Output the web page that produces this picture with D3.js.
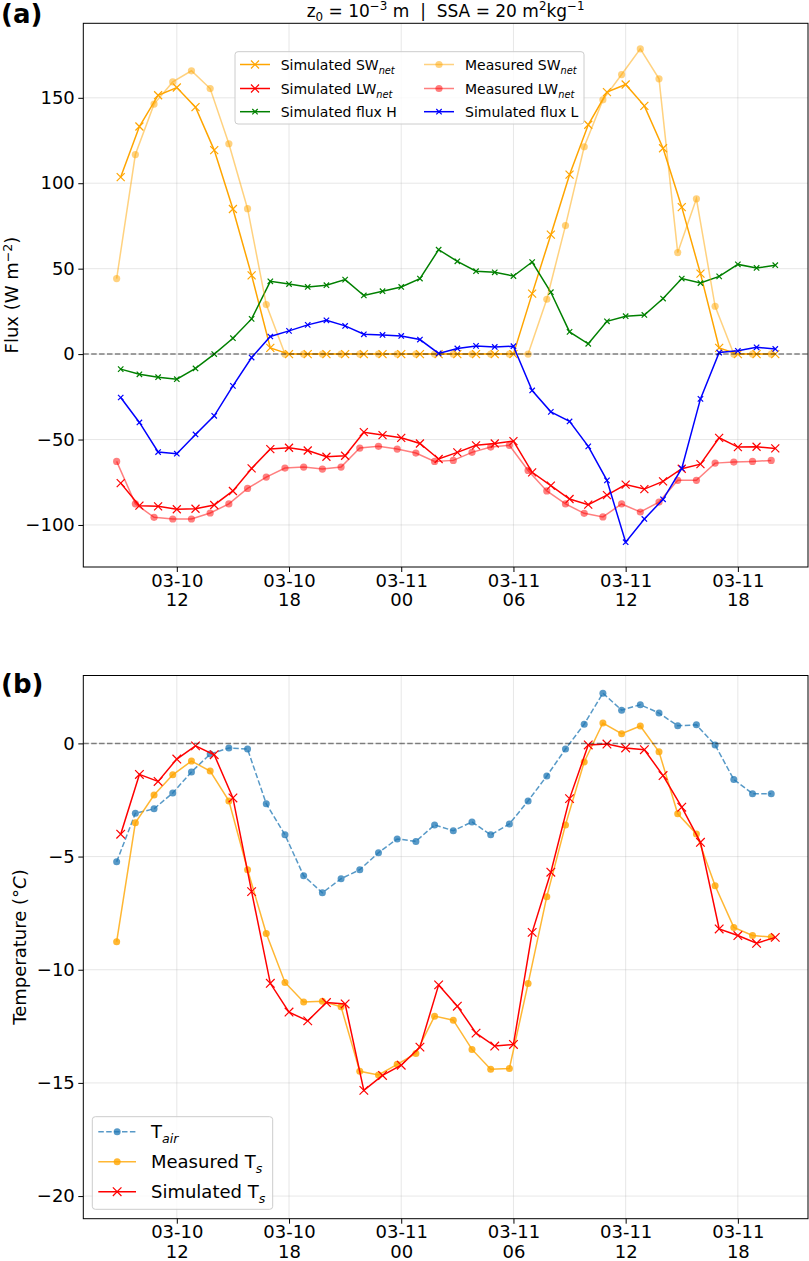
<!DOCTYPE html>
<html>
<head>
<meta charset="utf-8">
<script src="https://cdn.jsdelivr.net/npm/d3@7"></script>
<style>
body { margin: 0; background: #fff; }
svg text { font-family: "DejaVu Sans", sans-serif; fill: #000; }
</style>
</head>
<body>
<script>
// model output is hourly, 03-10 09:00 -> 03-11 20:00
const simTimes = d3.utcHour.range(new Date(Date.UTC(2021, 2, 10, 9)), new Date(Date.UTC(2021, 2, 11, 21)));
// station records are stamped a few minutes before the hour
const measTimes = simTimes.map(t => d3.utcMinute.offset(t, -13));
const tickTimes = ["2021-03-10T12:00Z", "2021-03-10T18:00Z", "2021-03-11T00:00Z",
                   "2021-03-11T06:00Z", "2021-03-11T12:00Z", "2021-03-11T18:00Z"].map(s => new Date(s));

// (a) fluxes, W m-2
const simSW = [103.6, 133.2, 151.5, 156, 144.5, 119.4, 84.9, 46.1, 3.6, 0, 0, 0, 0, 0, 0,
               0, 0, 0, 0, 0, 0, 0, 35.4, 69.9, 105, 134.2, 153.3, 157.8, 145.3, 120.5, 86, 47.1, 3.6, 0, 0, 0];
const measSW = [44.2, 116.8, 146.3, 159.3, 165.8, 155.4, 123.1, 85.1, 29, 0, 0, 0, 0, 0, 0, 0,
                0, 0, 0, 0, 0, 0, 0, 32.1, 75.2, 121.3, 148.8, 163.6, 178.6, 161.1, 59.4, 90.9, 28, 0, 0, 0];
const simLW = [-75.5, -88.7, -89.1, -90.8, -90.5, -88.3, -80.1, -66.9, -55.6, -54.8, -56.4, -60.1, -59.5, -45.7, -47.4,
               -49, -52.3, -61.4, -57.5, -53.4, -52.3, -50.9, -69.2, -77, -84.8, -88.1, -82.5, -76.4, -79, -74.5, -67.1, -64.4, -49, -54.4, -54.2, -55.2];
const measLW = [-62.8, -87.6, -95.5, -96.5, -96.5, -93, -87.7, -78.6, -72, -66.7, -66.1, -67.3, -66.1, -55, -54, -55.6,
                -57.9, -62.8, -62.2, -57.5, -54.4, -53.4, -68.1, -80.1, -87.7, -93.2, -95.3, -87.7, -92.4, -86.6, -73.9, -73.9, -63.8, -63.2, -62.8, -62.2];
const simH = [-8.8, -11.8, -13.5, -14.7, -8.4, 0, 9.3, 20.6, 42.6, 41.0, 39.3, 40.3, 43.6, 34.3, 36.8,
              39.3, 44.2, 61.1, 54.3, 48.5, 47.9, 45.7, 53.9, 36.2, 13.0, 6.0, 19.2, 22.2, 22.9, 32.5, 44.2, 41.6, 45.5, 52.5, 50.4, 52.0];
const simL = [-25.4, -40, -57.3, -58.3, -47, -36.1, -18.6, -2.0, 10.3, 13.6, 17.1, 19.8, 16.5, 11.6, 11.2,
              10.6, 8.5, 0.4, 3.3, 4.8, 4.2, 4.6, -21.3, -33.8, -39.4, -54, -73.9, -110.1, -96.5, -85, -66.9, -26.2, 0.9, 1.9, 4.0, 3.0];

// (b) temperatures, degC
const tAir = [-5.23, -3.09, -2.89, -2.19, -1.26, -0.47, -0.20, -0.25, -2.67, -4.04, -5.85, -6.60, -5.98, -5.58, -4.83, -4.22,
              -4.33, -3.60, -3.86, -3.47, -4.04, -3.56, -2.54, -1.44, -0.25, 0.85, 2.22, 1.47, 1.71, 1.34, 0.78, 0.82, -0.07, -1.60, -2.22, -2.22];
const measTs = [-8.76, -3.51, -2.28, -1.39, -0.78, -1.22, -2.54, -5.58, -8.40, -10.56, -11.43, -11.39, -11.64, -14.49, -14.65, -14.18,
                -13.70, -12.05, -12.23, -13.52, -14.40, -14.36, -10.61, -6.77, -3.60, -0.82, 0.90, 0.43, 0.77, -0.37, -3.11, -4.00, -6.29, -8.13, -8.49, -8.55];
const simTs = [-4.01, -1.37, -1.68, -0.69, -0.11, -0.50, -2.41, -6.55, -10.6, -11.87, -12.26, -11.45, -11.51, -15.33, -14.67,
               -14.22, -13.42, -10.67, -11.61, -12.80, -13.37, -13.30, -8.35, -5.69, -2.44, -0.07, -0.03, -0.20, -0.28, -1.42, -2.82, -4.37, -8.20, -8.49, -8.83, -8.57];

const fluxTicks = [-100, -50, 0, 50, 100, 150];
const tempTicks = [-20, -15, -10, -5, 0];

const W = 809, H = 1261;
const left = 83.3, right = 808;

const svg = d3.select("body").append("svg")
    .attr("width", W)
    .attr("height", H);

const x = d3.scaleUtc()
    .domain([new Date(Date.UTC(2021, 2, 10, 7)), new Date(Date.UTC(2021, 2, 11, 21, 45))])
    .range([left, right]);

const fmtDay = d3.utcFormat("%m-%d"), fmtHour = d3.utcFormat("%H");

// text with sub/superscripts: parts = [[text, "sub"|"sup"|null, italic]]
function rich(sel, parts, size, supShift = 0.4) {
    let shift = 0;
    parts.forEach(([t, kind, it]) => {
        const target = kind === "sub" ? size * 0.25 : kind === "sup" ? -size * supShift : 0;
        const ts = sel.append("tspan").attr("dy", target - shift).text(t);
        shift = target;
        if (kind) ts.attr("font-size", size * 0.7);
        if (it) ts.attr("font-style", "italic");
    });
    return sel;
}

function xMark(sel, s) {
    return sel.attr("d", `M${-s},${-s}L${s},${s}M${-s},${s}L${s},${-s}`);
}

function panel(top, bottom, domain, ticks) {
    const y = d3.scaleLinear().domain(domain).range([bottom, top]);
    const g = svg.append("g");

    g.append("g").selectAll("line").data(tickTimes).join("line")
        .attr("x1", d => x(d)).attr("x2", d => x(d))
        .attr("y1", top).attr("y2", bottom)
        .attr("stroke", "#b0b0b0").attr("stroke-opacity", 0.3);
    g.append("g").selectAll("line").data(ticks).join("line")
        .attr("x1", left).attr("x2", right)
        .attr("y1", d => y(d)).attr("y2", d => y(d))
        .attr("stroke", "#b0b0b0").attr("stroke-opacity", 0.3);

    const xa = g.append("g")
        .attr("transform", `translate(0,${bottom})`)
        .call(d3.axisBottom(x).tickValues(tickTimes).tickSize(5).tickSizeOuter(0));
    xa.select(".domain").remove();
    xa.selectAll(".tick text").each(function (d) {
        const t = d3.select(this).text(null).attr("y", null).attr("dy", null);
        t.append("tspan").attr("x", 0).attr("y", 19.7).text(fmtDay(d));
        t.append("tspan").attr("x", 0).attr("y", 39).text(fmtHour(d));
    });

    const ya = g.append("g")
        .attr("transform", `translate(${left},0)`)
        .call(d3.axisLeft(y).tickValues(ticks).tickSize(5).tickPadding(3.5).tickSizeOuter(0));
    ya.select(".domain").remove();

    g.selectAll(".tick line").attr("stroke", "#000");
    g.selectAll(".tick text").attr("font-size", 18).attr("font-family", "DejaVu Sans").attr("fill", "#000");

    const plot = g.append("g");
    g.append("rect")
        .attr("x", left).attr("y", top)
        .attr("width", right - left).attr("height", bottom - top)
        .attr("fill", "none").attr("stroke", "#000").attr("stroke-width", 1);
    return { g, plot, y };
}

function series(p, times, vals, o) {
    const pts = vals.map((v, i) => [x(times[i]), p.y(v)]);
    const s = p.plot.append("g");
    s.append("path")
        .attr("d", d3.line()(pts))
        .attr("fill", "none")
        .attr("stroke", o.color)
        .attr("stroke-width", 1.5)
        .attr("stroke-opacity", o.alpha || 1)
        .attr("stroke-dasharray", o.dash || null);
    if (o.marker === "o") {
        s.selectAll("circle").data(pts).join("circle")
            .attr("cx", d => d[0]).attr("cy", d => d[1]).attr("r", o.size)
            .attr("fill", o.color).attr("fill-opacity", o.alpha || 1);
    } else {
        s.selectAll(".m").data(pts).join("path")
            .attr("transform", d => `translate(${d[0]},${d[1]})`)
            .call(xMark, o.size)
            .attr("stroke", o.color).attr("stroke-width", 1.2).attr("fill", "none")
            .attr("stroke-opacity", o.alpha || 1);
    }
}

function zeroLine(p) {
    p.plot.append("line")
        .attr("x1", left).attr("x2", right)
        .attr("y1", p.y(0)).attr("y2", p.y(0))
        .attr("stroke", "#000").attr("stroke-opacity", 0.47)
        .attr("stroke-width", 1.5).attr("stroke-dasharray", "5.5,2.4");
}

function legend(items, box, fs) {
    const lg = svg.append("g");
    lg.append("rect")
        .attr("x", box[0]).attr("y", box[1]).attr("width", box[2]).attr("height", box[3])
        .attr("rx", 3).attr("fill", "#fff").attr("fill-opacity", 0.8)
        .attr("stroke", "#cccccc").attr("stroke-width", 1);
    items.forEach(it => {
        const r = lg.append("g").attr("transform", `translate(${it.x},${it.y})`);
        r.append("line").attr("x1", 0).attr("x2", it.hw)
            .attr("stroke", it.color).attr("stroke-width", 1.5)
            .attr("stroke-opacity", it.alpha || 1).attr("stroke-dasharray", it.dash || null);
        if (it.marker === "o") {
            r.append("circle").attr("cx", it.hw / 2).attr("r", it.size)
                .attr("fill", it.color).attr("fill-opacity", it.alpha || 1);
        } else {
            r.append("path").attr("transform", `translate(${it.hw / 2},0)`).call(xMark, it.size)
                .attr("stroke", it.color).attr("stroke-width", 1.2).attr("fill", "none")
                .attr("stroke-opacity", it.alpha || 1);
        }
        rich(r.append("text").attr("x", it.tx).attr("y", it.base).attr("font-size", fs), it.label, fs);
    });
}

// ---- (a) fluxes
const pa = panel(23.3, 567, [-124.6, 193.6], fluxTicks);
series(pa, simTimes, simSW, { color: "orange", marker: "x", size: 4 });
series(pa, simTimes, simLW, { color: "red", marker: "x", size: 4 });
series(pa, simTimes, simH, { color: "green", marker: "x", size: 2.7 });
series(pa, measTimes, measSW, { color: "orange", marker: "o", size: 3.6, alpha: 0.5 });
series(pa, measTimes, measLW, { color: "red", marker: "o", size: 3.6, alpha: 0.5 });
series(pa, simTimes, simL, { color: "blue", marker: "x", size: 2.7 });
zeroLine(pa);

legend([
    { x: 240, y: 64.5, base: 5.5, hw: 30, tx: 40.7, color: "orange", marker: "x", size: 4, label: [["Simulated SW"], ["net", "sub", true]] },
    { x: 240, y: 88.5, base: 5.5, hw: 30, tx: 40.7, color: "red", marker: "x", size: 4, label: [["Simulated LW"], ["net", "sub", true]] },
    { x: 240, y: 111.7, base: 5, hw: 30, tx: 40.7, color: "green", marker: "x", size: 2.7, label: [["Simulated flux H"]] },
    { x: 424, y: 64.5, base: 5.5, hw: 30, tx: 41, color: "orange", marker: "o", size: 3.6, alpha: 0.5, label: [["Measured SW"], ["net", "sub", true]] },
    { x: 424, y: 88.5, base: 5.5, hw: 30, tx: 41, color: "red", marker: "o", size: 3.6, alpha: 0.5, label: [["Measured LW"], ["net", "sub", true]] },
    { x: 424, y: 111.7, base: 5, hw: 30, tx: 41, color: "blue", marker: "x", size: 2.7, label: [["Simulated flux L"]] }
], [235, 51.7, 349, 72.3], 14);

rich(svg.append("text").attr("x", (left + right) / 2).attr("y", 17)
        .attr("text-anchor", "middle").attr("font-size", 17).style("white-space", "pre"),
    [["z"], ["0", "sub"], [" = 10"], ["\u22123", "sup"], ["\u00a0m\u00a0\u00a0|\u00a0\u00a0SSA = 20 m"], ["2", "sup"], ["kg"], ["\u22121", "sup"]], 17);

rich(svg.append("text").attr("transform", "translate(17.5,295) rotate(-90)")
        .attr("text-anchor", "middle").attr("font-size", 18),
    [["Flux (W m"], ["\u22122", "sup"], [")"]], 18, 0.33);

svg.append("text").attr("x", 1).attr("y", 23)
    .attr("font-size", 26).attr("font-weight", "bold").text("(a)");

// ---- (b) temperatures
const pb = panel(675.5, 1218.7, [-21, 3], tempTicks);
series(pb, measTimes, tAir, { color: "#1f77b4", marker: "o", size: 3.5, alpha: 0.75, dash: "5.5,2.4" });
series(pb, measTimes, measTs, { color: "orange", marker: "o", size: 3.5, alpha: 0.8 });
series(pb, simTimes, simTs, { color: "red", marker: "x", size: 4.3 });
zeroLine(pb);

legend([
    { x: 98.3, y: 1131.7, base: 6.6, hw: 37.7, tx: 52.7, color: "#1f77b4", marker: "o", size: 3.5, alpha: 0.75, dash: "5.5,2.4", label: [["T"], ["air", "sub", true]] },
    { x: 98.3, y: 1161.7, base: 6.6, hw: 37.7, tx: 52.7, color: "orange", marker: "o", size: 3.5, alpha: 0.8, label: [["Measured T"], ["s", "sub", true]] },
    { x: 98.3, y: 1191.7, base: 6.6, hw: 37.7, tx: 52.7, color: "red", marker: "x", size: 4.3, label: [["Simulated T"], ["s", "sub", true]] }
], [92.3, 1116.7, 180.4, 92.6], 18);

rich(svg.append("text").attr("transform", "translate(26.4,947) rotate(-90)")
        .attr("text-anchor", "middle").attr("font-size", 18),
    [["Temperature (\u00b0"], ["C", null, true], [")"]], 18);

svg.append("text").attr("x", 1).attr("y", 693)
    .attr("font-size", 26).attr("font-weight", "bold").text("(b)");
</script>
</body>
</html>
